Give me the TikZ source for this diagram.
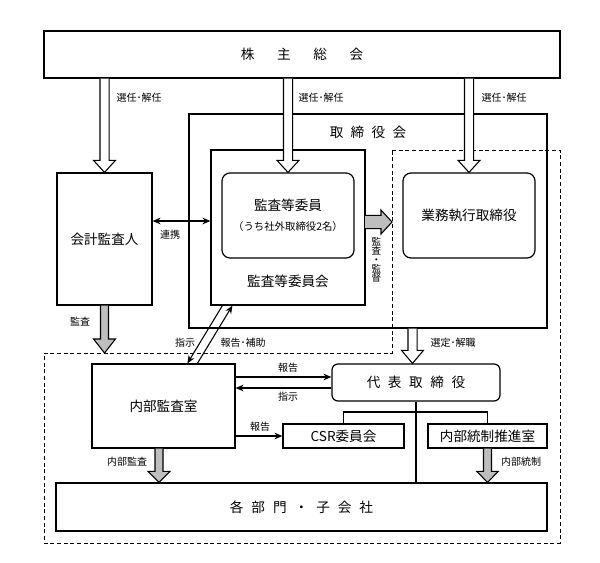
\documentclass[tikz,border=0pt]{standalone}
\usepackage{fontspec}
\setmainfont{Noto Sans CJK JP}
\usetikzlibrary{calc,arrows.meta}
\definecolor{agray}{RGB}{190,190,190}
\tikzset{
  box/.style={draw, line width=0.9pt, minimum width=0pt, minimum height=0pt, inner sep=0pt},
  rbox/.style={box, rounded corners=6pt},
  big/.style={font=\fontsize{10.2}{12}\selectfont},
  small/.style={font=\fontsize{7.5}{9}\selectfont},
  tiny/.style={font=\fontsize{7.2}{8}\selectfont},
  conn/.style={line width=0.8pt},
  tip/.style={-{Stealth[length=6pt,width=5pt]}},
  wblk/.style={draw, line width=0.8pt, fill=white},
  gblk/.style={draw, line width=0.8pt, fill=agray},
  dsh/.style={draw, line width=0.7pt, dash pattern=on 3pt off 2pt}
}
% vertical block arrow: style, start, end, shaft half, head half, head length
\newcommand\vblk[6]{\path[#1] let \p1=(#2), \p2=(#3) in
  (\x1-#4,\y1) -- (\x1-#4,\y2+#6) -- (\x1-#5,\y2+#6) -- (\x1,\y2) -- (\x1+#5,\y2+#6) -- (\x1+#4,\y2+#6) -- (\x1+#4,\y1);}
% horizontal block arrow (to the right)
\newcommand\hblk[6]{\path[#1] let \p1=(#2), \p2=(#3) in
  (\x1,\y1+#4) -- (\x2-#6,\y1+#4) -- (\x2-#6,\y1+#5) -- (\x2,\y1) -- (\x2-#6,\y1-#5) -- (\x2-#6,\y1-#4) -- (\x1,\y1-#4);}
\begin{document}
\begin{tikzpicture}[x=0.75pt,y=-0.75pt]
\useasboundingbox (0,0) rectangle (600,562);
\fill[white] (0,0) rectangle (600,562);

% dashed executive region
\draw[dsh] (392,150) -- (560,150) -- (560,543) -- (44,543) -- (44,353) -- (392,353) -- cycle;
\coordinate (dl) at (44,353);
\coordinate (dr) at (392,150);

% boxes
\node[box, minimum width=516*0.75pt, minimum height=47*0.75pt, big] (soukai) at (302,54.5) {株\kern17pt 主\kern17pt 総\kern17pt 会};
\node[box, minimum width=358*0.75pt, minimum height=214*0.75pt] (tori) at (368,221) {};
\node[big, anchor=center] (toril) at (368,132) {取\kern5.5pt 締\kern5.5pt 役\kern5.5pt 会};
\node[box, minimum width=154*0.75pt, minimum height=155*0.75pt] (iinkai) at (288,227.5) {};
\node[big] (iinkail) at (288,281) {監査等委員会};
\node[box, minimum width=95*0.75pt, minimum height=132*0.75pt, big] (kaikei) at (104.5,239) {会計監査人};
\node[rbox, minimum width=132*0.75pt, minimum height=85*0.75pt, align=center] (kansaiin) at (288,215.5)
  {{\fontsize{10.2}{12}\selectfont 監査等委員}\\[3pt]{\fontsize{7.8}{9}\selectfont （うち社外取締役2名）}};
\node[rbox, minimum width=132*0.75pt, minimum height=85*0.75pt, big] (gyomu) at (469,215.5) {業務執行取締役};
\node[box, minimum width=143*0.75pt, minimum height=84*0.75pt, big] (naibu) at (163.5,406) {内部監査室};
\node[box, rounded corners=4.5pt, minimum width=168*0.75pt, minimum height=37*0.75pt, big] (daihyo) at (416,382.5) {代\kern5.7pt 表\kern5.7pt 取\kern5.7pt 締\kern5.7pt 役};
\node[box, minimum width=121*0.75pt, minimum height=24*0.75pt, big] (csr) at (343.5,436) {CSR委員会};
\node[box, minimum width=119*0.75pt, minimum height=24*0.75pt, big] (tosei) at (487.5,436) {内部統制推進室};
\node[box, minimum width=491*0.75pt, minimum height=48*0.75pt, big] (kaku) at (301.5,507) {各\kern6pt 部\kern6pt 門\kern6pt ・\kern6pt 子\kern6pt 会\kern6pt 社};

% white block arrows (選任・解任)
\vblk{wblk}{soukai.south -| kaikei.north}{kaikei.north}{3.4pt}{8.2pt}{9pt}
\vblk{wblk}{soukai.south -| kansaiin.north}{kansaiin.north}{3.4pt}{8.2pt}{9pt}
\vblk{wblk}{soukai.south -| gyomu.north}{gyomu.north}{3.4pt}{8.2pt}{9pt}
\node[small, anchor=west] (l1) at (112,98) {選任･解任};
\node[small, anchor=west] (l2) at (294,98) {選任･解任};
\node[small, anchor=west] (l3) at (477,98) {選任･解任};

% 選定・解職
\coordinate (sx) at ($(daihyo.north)+(-3.5,0)$);
\vblk{wblk}{tori.south -| sx}{sx}{3.4pt}{8.2pt}{9.75pt}
\node[small, anchor=west] (l4) at (426,343) {選定･解職};

% gray block arrows
\vblk{gblk}{kaikei.south}{kaikei.south |- dl}{3pt}{8.2pt}{10.5pt}
\node[small] (l5) at (80,322) {監査};
\coordinate (nx) at ($(naibu.south)+(-4.5,0)$);
\vblk{gblk}{nx}{nx |- kaku.north}{3pt}{8.2pt}{8.25pt}
\node[small] (l6) at (127,462) {内部監査};
\vblk{gblk}{tosei.south}{tosei.south |- kaku.north}{3pt}{8pt}{8.25pt}
\node[small] (l7) at (521,462) {内部統制};
\coordinate (hx) at (365,222);
\hblk{gblk}{hx}{hx -| dr}{5pt}{9pt}{8.25pt}
\node[tiny, align=center, inner sep=0pt] (l8) at (376.5,260) {監\\[-1.2pt]査\\[-1.2pt]・\\[-1.2pt]監\\[-1.2pt]督};

% 連携
\draw[conn, {Stealth[length=6pt,width=5pt]}-{Stealth[length=6pt,width=5pt]}] (kaikei.east |- 0,221) -- (iinkai.west |- 0,221);
\node[small] (l9) at (170,235) {連携};

% diagonal
\coordinate (d1a) at ($(iinkai.south west)+(12,0)$);
\coordinate (d1b) at ($(naibu.north west)+(96,0)$);
\coordinate (d2a) at ($(naibu.north west)+(106,0)$);
\coordinate (d2b) at ($(iinkai.south west)+(22,0)$);
\draw[conn, tip] (d1a) -- (d1b);
\draw[conn, tip] (d2a) -- (d2b);
\node[small] (l10) at (185,343) {指示};
\node[small] (l11) at (243,343) {報告･補助};

% 報告 / 指示
\draw[conn, tip] (naibu.east |- 0,377) -- (daihyo.west |- 0,377);
\draw[conn, tip] (daihyo.west |- 0,388) -- (naibu.east |- 0,388);
\node[small] (l12) at (288,368) {報告};
\node[small] (l13) at (288,397) {指示};
\draw[conn, tip] (naibu.east |- csr.west) -- (csr.west);
\node[small] (l14) at (260,427) {報告};

% tree from 代表取締役
\coordinate (br) at (416,412);
\draw[conn] (daihyo.south) -- (daihyo.south |- kaku.north);
\draw[conn] (csr.north) |- (br) -| (tosei.north);
\end{tikzpicture}
\end{document}
